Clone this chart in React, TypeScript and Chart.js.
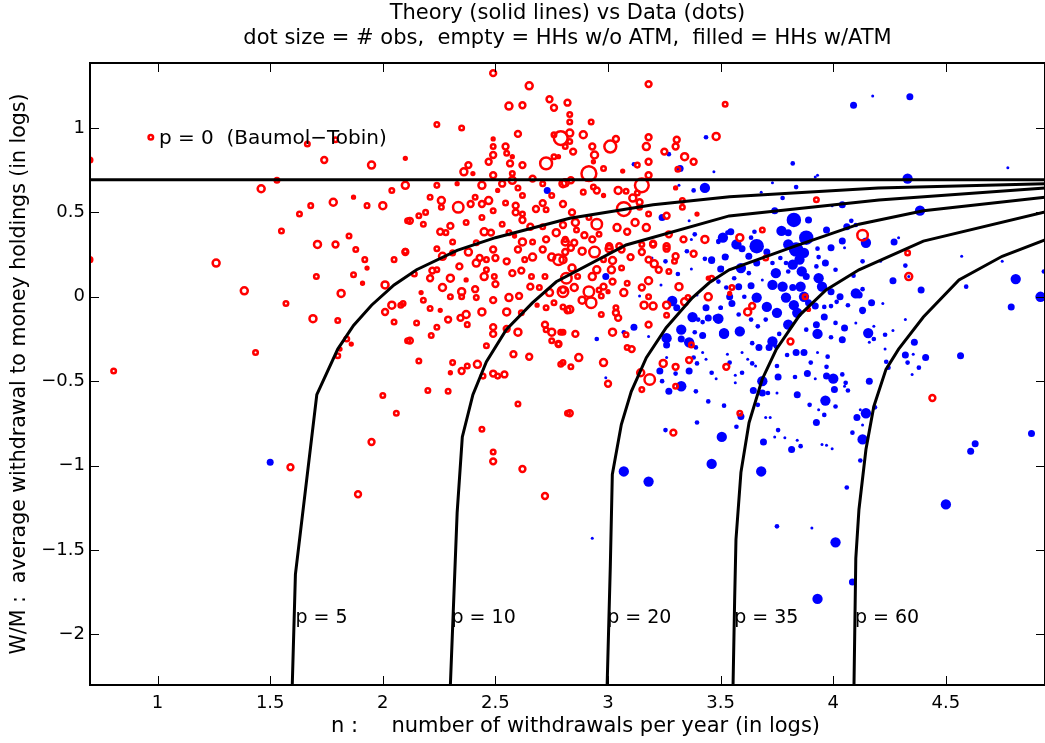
import React, { useEffect, useRef } from "react";
import { Chart, registerables } from "chart.js";

Chart.register(...registerables);

// ---------- axes ----------
const xMin = 0.7;
const xMax = 4.94;
const yMin = -2.3;
const yMax = 1.385;
const xTicks = [1, 1.5, 2, 2.5, 3, 3.5, 4, 4.5];
const yTicks = [-2, -1.5, -1, -0.5, 0, 0.5, 1];

// ---------- text ----------
const titleLines = [
  "Theory (solid lines) vs Data (dots)",
  "dot size = # obs,  empty = HHs w/o ATM,  filled = HHs w/ATM",
];
const xTitle = "n :     number of withdrawals per year (in logs)";
const yTitle = "W/M :  average withdrawal to money holdings (in logs)";
const baumolLabel = "p = 0  (Baumol\u2212Tobin)";
const baumolLabelPos = [1.006, 0.935];
const curveLabels = ["p = 5", "p = 10", "p = 20", "p = 35", "p = 60"];
const curveLabelX = [1.612, 2.305, 2.996, 3.56, 4.096];
const curveLabelY = -1.905;

// ---------- theory curves (x = log n, y = log W/M) ----------
const curveP0: number[][] = [[0.7, 0.693], [4.94, 0.693]];
const curveP5: number[][] = [
  [1.598, -2.3], [1.612, -1.645], [1.707, -0.58], [1.8, -0.31], [1.87, -0.17], [1.95, -0.05],
  [2.05, 0.07], [2.15, 0.16], [2.33, 0.275], [2.5, 0.35], [2.83, 0.465], [3.2, 0.545],
  [3.54, 0.592], [4.2, 0.645], [4.94, 0.67],
];
const curveP10: number[][] = [
  [2.3, -2.3], [2.33, -1.28], [2.353, -0.83], [2.4, -0.58], [2.46, -0.385], [2.548, -0.195],
  [2.664, -0.036], [2.77, 0.089], [3.08, 0.307], [3.538, 0.479], [4.203, 0.574], [4.94, 0.645],
];
const curveP20: number[][] = [
  [2.996, -2.3], [3.01, -1.6], [3.019, -1.053], [3.059, -0.757], [3.103, -0.562], [3.17, -0.361],
  [3.258, -0.183], [3.374, -0.006], [3.449, 0.083], [3.538, 0.16], [3.83, 0.3], [4.114, 0.43],
  [4.4, 0.51], [4.94, 0.59],
];
const curveP35: number[][] = [
  [3.555, -2.3], [3.562, -1.8], [3.568, -1.438], [3.59, -1.04], [3.626, -0.746], [3.684, -0.49],
  [3.746, -0.314], [3.85, -0.11], [3.968, 0.041], [4.114, 0.16], [4.4, 0.33], [4.94, 0.503],
];
const curveP60: number[][] = [
  [4.092, -2.3], [4.1, -1.55], [4.114, -1.26], [4.145, -0.905], [4.18, -0.65], [4.234, -0.43],
  [4.29, -0.31], [4.4, -0.12], [4.558, 0.1], [4.75, 0.24], [4.94, 0.337],
];
const theoryCurves = [curveP0, curveP5, curveP10, curveP20, curveP35, curveP60];

// ---------- data: [log n, log W/M, # obs] ----------
const withoutAtm: number[][] = [
  [0.7, 0.81, 2], [0.97, 0.945, 2], [1.665, 0.905, 2], [1.79, 0.93, 2], [1.74, 0.81, 3], [1.95, 0.78, 4],
  [2.1, 0.82, 1], [1.53, 0.69, 2], [1.46, 0.64, 4], [2.04, 0.63, 2], [2.1, 0.66, 4], [1.78, 0.56, 4],
  [1.87, 0.59, 1], [1.68, 0.54, 2], [1.93, 0.54, 2], [2.0, 0.54, 4], [1.63, 0.49, 2], [2.11, 0.45, 2],
  [1.55, 0.39, 2], [1.85, 0.36, 2], [1.71, 0.31, 4], [1.79, 0.31, 3], [1.88, 0.28, 2], [2.1, 0.27, 2],
  [2.05, 0.22, 2], [1.92, 0.22, 2], [1.93, 0.17, 1], [1.26, 0.2, 4], [0.7, 0.22, 2], [1.705, 0.12, 2],
  [1.87, 0.13, 2], [1.91, 0.08, 1], [2.01, 0.07, 4], [1.385, 0.035, 4], [1.815, 0.02, 4], [1.57, -0.04, 2],
  [2.04, -0.05, 4], [2.08, -0.05, 2],
  [1.69, -0.13, 4], [1.8, -0.14, 2], [2.01, -0.09, 3], [2.05, -0.15, 2], [1.84, -0.25, 2], [1.86, -0.28, 1],
  [1.81, -0.31, 1], [1.8, -0.35, 2], [2.11, -0.26, 2], [1.435, -0.33, 2], [0.805, -0.44, 2], [2.0, -0.585, 2],
  [2.06, -0.69, 2], [1.95, -0.86, 3], [1.59, -1.01, 3], [1.89, -1.17, 3],
  [2.49, 1.325, 3], [2.65, 1.25, 4], [2.56, 1.13, 4], [2.62, 1.135, 3], [2.74, 1.17, 3], [2.76, 1.12, 3],
  [2.82, 1.15, 3], [2.24, 1.02, 2], [2.35, 1.0, 2], [2.49, 0.935, 1], [2.49, 0.89, 2], [2.545, 0.89, 3],
  [2.55, 0.85, 2], [2.575, 0.83, 1], [2.49, 0.84, 3], [2.6, 0.965, 3], [2.47, 0.8, 3], [2.565, 0.79, 3],
  [2.62, 0.78, 3], [2.725, 0.79, 10], [2.76, 0.83, 2], [2.78, 0.83, 1], [2.79, 0.94, 13], [2.76, 0.96, 2],
  [2.81, 0.89, 2], [2.38, 0.78, 3], [2.36, 0.74, 4], [2.4, 0.73, 1], [2.49, 0.72, 3], [2.575, 0.73, 2],
  [2.665, 0.7, 3], [2.24, 0.66, 2], [2.33, 0.67, 1], [2.44, 0.66, 4], [2.53, 0.67, 3], [2.575, 0.69, 4],
  [2.6, 0.645, 2], [2.71, 0.67, 2], [2.75, 0.6, 2], [2.8, 0.67, 4], [2.51, 0.63, 1], [2.21, 0.59, 2],
  [2.26, 0.57, 4], [2.26, 0.53, 2], [2.335, 0.53, 8], [2.39, 0.55, 3], [2.41, 0.59, 2], [2.44, 0.55, 3],
  [2.47, 0.57, 4], [2.49, 0.51, 2], [2.545, 0.555, 2], [2.59, 0.54, 3], [2.62, 0.6, 2], [2.59, 0.5, 3],
  [2.62, 0.49, 2], [2.68, 0.52, 3], [2.71, 0.555, 3], [2.725, 0.515, 2], [2.8, 0.55, 3], [2.16, 0.48, 2],
  [2.19, 0.5, 2], [2.12, 0.45, 3], [2.18, 0.43, 2], [2.3, 0.42, 3], [2.255, 0.385, 3], [2.28, 0.38, 2],
  [2.31, 0.325, 2], [2.37, 0.44, 2], [2.44, 0.47, 2], [2.45, 0.385, 4], [2.48, 0.38, 3], [2.53, 0.43, 2],
  [2.56, 0.38, 2], [2.585, 0.36, 1], [2.62, 0.455, 3], [2.655, 0.415, 3], [2.71, 0.415, 2], [2.62, 0.325, 4],
  [2.665, 0.325, 2], [2.725, 0.34, 3], [2.77, 0.38, 4], [2.8, 0.425, 3], [2.415, 0.32, 2], [2.81, 0.34, 2],
  [2.1, 0.265, 3], [2.24, 0.285, 2], [2.265, 0.24, 4], [2.31, 0.26, 2], [2.22, 0.155, 3], [2.24, 0.16, 2],
  [2.14, 0.135, 2], [2.21, 0.11, 3], [2.3, 0.11, 4], [2.34, 0.18, 3], [2.38, 0.265, 4], [2.415, 0.2, 4],
  [2.43, 0.23, 3], [2.46, 0.22, 2], [2.5, 0.23, 3], [2.49, 0.28, 3], [2.55, 0.21, 3], [2.6, 0.28, 3],
  [2.63, 0.22, 2], [2.665, 0.235, 4], [2.71, 0.28, 3], [2.75, 0.235, 4], [2.78, 0.22, 8], [2.81, 0.265, 3],
  [2.45, 0.12, 4], [2.495, 0.12, 2], [2.46, 0.16, 2], [2.37, 0.1, 1], [2.41, 0.045, 3], [2.5, 0.075, 3],
  [2.265, 0.055, 4], [2.3, 0.0, 2], [2.35, 0.03, 4], [2.35, 0.0, 2], [2.415, -0.005, 2], [2.49, -0.02, 3],
  [2.575, 0.14, 3], [2.615, 0.155, 3], [2.56, -0.005, 4], [2.605, 0.005, 3], [2.66, 0.12, 2], [2.72, 0.12, 2],
  [2.655, 0.06, 3], [2.695, 0.055, 2], [2.74, 0.025, 4], [2.76, -0.035, 2], [2.725, -0.065, 2], [2.8, 0.04, 3],
  [2.82, -0.08, 3], [2.685, -0.05, 1], [2.09, -0.04, 2], [2.18, -0.02, 2], [2.17, 0.025, 1], [2.21, -0.07, 2],
  [2.255, -0.08, 1], [2.29, -0.135, 3], [2.345, -0.125, 3], [2.37, -0.105, 4], [2.375, -0.165, 2], [2.44, -0.09, 4],
  [2.55, -0.09, 4], [2.49, -0.18, 3], [2.49, -0.22, 3], [2.55, -0.19, 3], [2.6, -0.21, 4], [2.615, -0.095, 2],
  [2.72, -0.165, 3], [2.75, -0.21, 4], [2.725, -0.195, 2], [2.79, -0.21, 2], [2.75, -0.26, 2], [2.78, -0.28, 3],
  [2.15, -0.155, 2], [2.24, -0.18, 2], [2.215, -0.23, 2], [2.12, -0.26, 3], [2.46, -0.29, 2], [2.58, -0.34, 3],
  [2.65, -0.355, 3], [2.16, -0.38, 2], [2.31, -0.39, 2], [2.42, -0.4, 4], [2.375, -0.41, 2], [2.3, -0.45, 1],
  [2.35, -0.44, 3], [2.445, -0.47, 2], [2.49, -0.455, 3], [2.51, -0.47, 2], [2.54, -0.46, 3], [2.79, -0.4, 2],
  [2.2, -0.555, 2], [2.29, -0.56, 2], [2.6, -0.635, 2], [2.82, -0.69, 2], [2.44, -0.785, 2], [2.49, -0.92, 2],
  [2.49, -0.975, 3], [2.62, -1.02, 3], [2.72, -1.18, 3],
  [3.18, 1.26, 3], [3.52, 1.14, 2], [2.83, 1.08, 2], [2.83, 1.035, 2], [2.925, 1.035, 2], [2.83, 0.97, 4],
  [2.89, 0.96, 4], [2.83, 0.92, 2], [2.845, 0.86, 3], [2.93, 0.89, 3], [3.01, 0.89, 10], [3.035, 0.935, 3],
  [2.94, 0.84, 4], [2.935, 0.8, 1], [3.18, 0.945, 3], [3.17, 0.89, 4], [3.25, 0.86, 3], [3.305, 0.93, 3],
  [3.3, 0.89, 3], [3.34, 0.83, 4], [3.38, 0.8, 3], [3.48, 0.95, 4], [3.13, 0.78, 2], [3.18, 0.8, 3],
  [3.31, 0.755, 2], [2.98, 0.76, 2], [3.065, 0.745, 1], [3.18, 0.72, 3], [2.915, 0.73, 15], [2.81, 0.675, 4],
  [2.835, 0.69, 3], [2.935, 0.65, 2], [2.95, 0.63, 3], [2.89, 0.62, 2], [2.98, 0.6, 1], [3.045, 0.63, 4],
  [3.08, 0.625, 2], [3.15, 0.66, 13], [3.13, 0.615, 2], [3.11, 0.585, 4], [3.14, 0.56, 3], [3.3, 0.645, 1],
  [3.33, 0.57, 2], [3.33, 0.53, 2], [3.395, 0.49, 1], [3.26, 0.48, 3], [3.07, 0.52, 13], [3.14, 0.53, 2],
  [3.18, 0.49, 2], [3.12, 0.44, 4], [3.17, 0.41, 4], [3.085, 0.385, 3], [3.04, 0.41, 4], [2.95, 0.43, 8],
  [2.96, 0.37, 2], [2.915, 0.47, 2], [2.84, 0.5, 3], [2.855, 0.44, 4], [2.86, 0.395, 2], [2.81, 0.325, 4],
  [2.85, 0.32, 3], [2.895, 0.365, 3], [2.93, 0.34, 3], [3.005, 0.3, 3], [3.05, 0.3, 3], [3.15, 0.31, 2],
  [3.2, 0.315, 3], [3.27, 0.37, 3], [3.335, 0.34, 3], [3.26, 0.3, 3], [3.43, 0.34, 4],
  [2.835, 0.29, 3], [2.885, 0.27, 4], [2.94, 0.265, 8], [3.005, 0.285, 4], [3.06, 0.28, 3], [3.1, 0.235, 3],
  [3.15, 0.265, 3], [3.2, 0.31, 3], [3.26, 0.285, 3], [3.3, 0.24, 3], [3.295, 0.21, 2], [3.38, 0.255, 3],
  [3.18, 0.22, 3], [3.205, 0.195, 4], [3.225, 0.16, 3], [3.27, 0.15, 2], [3.02, 0.215, 4], [3.015, 0.16, 4],
  [3.06, 0.17, 2], [2.98, 0.22, 2], [2.95, 0.16, 4], [2.84, 0.17, 4], [2.8, 0.22, 4], [2.815, 0.11, 8],
  [2.865, 0.12, 2], [2.93, 0.12, 4], [2.8, 0.03, 8], [2.85, 0.055, 4], [2.915, 0.03, 8], [2.96, 0.04, 2],
  [2.98, 0.06, 3], [3.02, 0.09, 3], [3.0, 0.03, 1], [3.07, 0.025, 4], [3.085, 0.08, 2], [3.15, 0.055, 3],
  [3.18, 0.095, 4], [3.18, 0.0, 2], [3.16, -0.05, 4], [3.2, -0.055, 4], [3.26, -0.05, 4], [3.26, -0.11, 2],
  [3.315, 0.06, 4], [3.34, -0.03, 4], [3.355, -0.005, 2], [3.445, 0.0, 4], [3.445, 0.11, 1], [2.885, -0.02, 4],
  [2.925, -0.035, 8], [2.97, 0.005, 2], [2.83, -0.075, 4], [2.8, -0.06, 2], [2.97, -0.105, 2], [3.035, -0.065, 2],
  [3.035, -0.095, 3], [3.045, -0.125, 3], [3.18, -0.165, 3], [3.02, -0.21, 4], [3.08, -0.225, 2], [2.855, -0.22, 3],
  [2.8, -0.21, 2], [2.78, -0.28, 2], [3.085, -0.3, 2], [3.105, -0.31, 3], [2.87, -0.36, 4], [2.98, -0.39, 4],
  [2.8, -0.39, 2], [2.835, -0.415, 2], [3.145, -0.45, 4], [3.185, -0.49, 8], [3.15, -0.55, 2], [3.0, -0.515, 3],
  [2.83, -0.69, 3], [3.245, -0.395, 4], [3.3, -0.415, 3], [3.3, -0.53, 2], [3.36, -0.375, 3], [3.37, -0.285, 2],
  [3.29, -0.805, 3], [3.525, -0.415, 3],
  [3.925, 0.575, 2], [3.685, 0.395, 2], [3.585, 0.35, 4], [4.13, 0.365, 8], [3.7, 0.23, 2], [3.55, 0.055, 2],
  [3.54, 0.02, 1], [3.64, -0.055, 3], [3.62, -0.09, 4], [3.875, 0.0, 2], [3.89, -0.075, 1], [3.81, -0.265, 3],
  [3.46, 0.11, 2], [3.585, -0.69, 2], [4.33, 0.26, 2], [4.335, 0.12, 4], [4.44, -0.6, 3],
];

const withAtm: number[][] = [
  [1.5, -0.98, 4], [2.73, 0.63, 4], [2.93, -1.43, 1],
  [3.435, 0.945, 2], [3.47, 0.74, 1], [3.27, 0.845, 2], [3.115, 0.785, 2], [3.32, 0.76, 4], [3.315, 0.66, 1],
  [3.38, 0.63, 2], [3.43, 0.645, 8], [3.36, 0.45, 1], [3.24, 0.47, 4], [3.385, 0.37, 2], [3.37, 0.34, 1],
  [3.49, 0.325, 2], [3.51, 0.35, 8], [3.53, 0.38, 2],
  [3.35, 0.27, 2], [3.43, 0.225, 2], [3.46, 0.215, 4], [3.52, 0.235, 4], [3.255, 0.21, 2], [3.195, 0.23, 1],
  [3.37, 0.165, 1], [3.5, 0.165, 4], [3.31, 0.135, 2], [2.99, 0.12, 4], [3.235, 0.07, 1], [3.395, 0.01, 1],
  [3.14, 0.005, 1], [3.285, -0.025, 8], [3.305, -0.065, 4], [3.435, -0.065, 4], [3.5, -0.065, 2], [3.375, -0.12, 8],
  [3.445, -0.125, 4], [3.49, -0.13, 8], [3.4, -0.135, 2], [3.42, -0.15, 2], [3.115, -0.18, 4], [3.325, -0.195, 8],
  [3.385, -0.21, 2], [3.42, -0.23, 4], [3.515, -0.22, 8], [3.26, -0.245, 8], [3.26, -0.285, 4], [3.325, -0.25, 4],
  [3.36, -0.27, 8], [3.39, -0.3, 2], [3.07, -0.21, 2], [3.18, -0.235, 1], [2.95, -0.25, 2], [3.38, -0.36, 2],
  [3.42, -0.33, 1], [3.435, -0.37, 1], [3.395, -0.395, 2], [3.26, -0.36, 1], [3.23, -0.44, 4], [3.3, -0.455, 2],
  [3.36, -0.44, 4], [3.46, -0.45, 2], [3.48, -0.485, 1], [3.24, -0.5, 2], [3.325, -0.53, 8], [3.27, -0.56, 4],
  [3.39, -0.56, 2], [2.99, -0.48, 1], [3.445, -0.62, 2], [3.515, -0.645, 2], [3.395, -0.745, 2], [3.255, -0.79, 2],
  [3.505, -0.83, 8], [3.46, -0.99, 8], [3.07, -1.035, 8], [3.18, -1.095, 8],
  [3.82, 0.79, 2], [3.93, 0.72, 1], [3.92, 0.71, 1], [3.73, 0.675, 1], [3.835, 0.65, 2], [3.68, 0.62, 1],
  [3.775, 0.585, 2], [4.04, 0.545, 4], [3.995, 0.54, 1], [3.74, 0.51, 4], [3.825, 0.455, 15], [3.89, 0.455, 4],
  [3.545, 0.385, 4], [3.65, 0.385, 2], [3.77, 0.39, 8], [3.8, 0.38, 4], [3.97, 0.395, 4], [4.06, 0.415, 4],
  [4.1, 0.425, 2], [4.08, 0.45, 2], [3.88, 0.35, 15], [3.51, 0.355, 4], [3.49, 0.33, 2], [3.57, 0.31, 8],
  [3.595, 0.285, 4], [3.635, 0.35, 2], [3.66, 0.3, 15], [3.705, 0.265, 4], [3.8, 0.31, 8], [3.835, 0.28, 15],
  [3.87, 0.26, 8], [4.04, 0.33, 4], [3.99, 0.29, 4], [3.93, 0.285, 2], [4.05, 0.29, 1], [3.935, 0.235, 2],
  [3.965, 0.2, 4], [3.925, 0.18, 2], [3.85, 0.22, 8], [3.82, 0.19, 8], [3.765, 0.23, 2], [3.79, 0.2, 2],
  [3.73, 0.2, 2], [3.66, 0.2, 4], [3.625, 0.24, 4], [3.525, 0.24, 2], [3.46, 0.22, 4], [3.505, 0.17, 2],
  [3.59, 0.17, 8], [3.625, 0.14, 2], [3.56, 0.11, 2], [3.685, 0.1, 1], [3.745, 0.14, 8], [3.8, 0.15, 2],
  [3.86, 0.15, 8], [3.88, 0.12, 4], [3.935, 0.11, 8], [4.01, 0.16, 2], [4.09, 0.125, 2], [3.49, 0.09, 2],
  [3.525, 0.055, 2], [3.58, 0.06, 4], [3.635, 0.065, 4], [3.73, 0.07, 8], [3.775, 0.06, 8], [3.82, 0.055, 4],
  [3.855, 0.06, 8], [3.95, 0.06, 8], [3.99, 0.03, 4], [4.03, 0.0, 4], [4.1, 0.02, 8], [3.54, 0.0, 4],
  [3.605, 0.0, 2], [3.66, -0.005, 8], [3.79, -0.005, 8], [3.87, 0.0, 8], [3.89, -0.035, 4], [3.92, -0.055, 4],
  [3.96, -0.06, 2], [3.99, -0.055, 2], [4.015, -0.03, 2], [4.065, -0.05, 2], [4.17, -0.035, 4], [3.705, -0.06, 8],
  [3.75, -0.095, 8], [3.825, -0.05, 8], [3.84, -0.095, 8], [3.58, -0.105, 2], [3.55, -0.04, 4], [3.5, -0.065, 2],
  [3.48, -0.125, 4], [3.635, -0.135, 2], [3.7, -0.135, 2], [3.8, -0.165, 8], [3.925, -0.165, 4], [3.96, -0.12, 4],
  [4.01, -0.155, 2], [4.05, -0.185, 4], [4.1, -0.155, 1], [4.13, -0.09, 2], [4.155, -0.215, 8], [3.515, -0.215, 8],
  [3.585, -0.205, 8], [3.665, -0.175, 2], [3.76, -0.22, 2], [3.88, -0.195, 2], [3.93, -0.22, 8], [3.99, -0.24, 2],
  [4.04, -0.25, 2], [3.64, -0.275, 2], [3.73, -0.265, 8], [4.16, -0.27, 1], [4.18, -0.25, 2],
  [3.67, -0.3, 4], [3.715, -0.3, 4], [3.745, -0.295, 2], [3.795, -0.345, 2], [3.835, -0.33, 4], [3.87, -0.33, 4],
  [3.53, -0.34, 1], [3.54, -0.39, 2], [3.595, -0.33, 1], [3.62, -0.37, 1], [3.64, -0.395, 2], [3.655, -0.41, 1],
  [3.46, -0.45, 1], [3.565, -0.465, 1], [3.595, -0.45, 2], [3.565, -0.51, 1], [3.685, -0.5, 8], [3.645, -0.555, 4],
  [3.685, -0.57, 4], [3.71, -0.57, 2], [3.755, -0.475, 4], [3.75, -0.57, 1], [3.75, -0.41, 2], [3.83, -0.475, 2],
  [3.885, -0.455, 4], [3.84, -0.58, 4], [3.9, -0.39, 2], [3.93, -0.33, 1], [3.975, -0.355, 2], [3.97, -0.415, 2],
  [3.92, -0.485, 1], [3.97, -0.47, 4], [4.0, -0.485, 8], [4.04, -0.46, 2], [4.055, -0.51, 2], [4.005, -0.55, 4],
  [4.05, -0.53, 1], [4.065, -0.555, 2], [4.16, -0.5, 4], [4.04, -0.255, 4], [3.665, -0.64, 2], [3.895, -0.64, 2],
  [3.965, -0.615, 8], [4.01, -0.65, 2], [3.935, -0.67, 1], [3.96, -0.7, 2], [3.925, -0.745, 4], [3.7, -0.715, 1],
  [3.72, -0.715, 1], [3.59, -0.71, 4], [3.57, -0.77, 2], [3.755, -0.79, 2], [3.74, -0.83, 1], [3.785, -0.835, 1],
  [3.69, -0.86, 4], [3.815, -0.905, 4], [3.84, -0.85, 1], [3.855, -0.885, 2], [3.95, -0.875, 1], [3.97, -0.88, 1],
  [3.995, -0.9, 1], [3.68, -1.035, 8], [4.06, -1.13, 2], [3.75, -1.36, 2], [3.905, -1.37, 1], [4.01, -1.455, 8],
  [4.085, -1.69, 4], [3.93, -1.79, 8], [4.105, -0.715, 4], [4.13, -0.845, 8], [4.12, -0.97, 2], [4.085, -0.805, 2],
  [4.145, -0.69, 8], [4.185, -0.655, 2], [4.12, -0.67, 1],
  [4.175, 1.19, 1], [4.34, 1.185, 4], [4.775, 0.765, 1], [4.33, 0.7, 8], [4.385, 0.51, 8], [4.145, 0.32, 8],
  [4.27, 0.325, 4], [4.29, 0.35, 1], [4.13, 0.21, 2], [4.21, 0.21, 1], [4.32, 0.185, 2], [4.57, 0.24, 1],
  [4.75, 0.21, 1], [4.81, 0.105, 8], [4.935, 0.15, 2], [4.92, 0.0, 8], [4.59, 0.06, 2], [4.79, -0.06, 4],
  [4.265, 0.095, 4], [4.39, 0.04, 4], [4.13, 0.045, 2], [4.115, 0.01, 4], [4.22, -0.04, 1], [4.13, -0.08, 4],
  [4.32, -0.135, 1], [4.18, -0.175, 1], [4.265, -0.2, 1], [4.23, -0.225, 2], [4.36, -0.27, 4], [4.23, -0.31, 1],
  [4.32, -0.345, 4], [4.355, -0.34, 1], [4.41, -0.36, 4], [4.565, -0.35, 4], [4.09, 1.135, 4], [4.335, 0.12, 1],
  [4.235, -0.385, 2], [4.245, -0.42, 2], [4.33, -0.39, 2], [4.38, -0.42, 2], [4.35, -0.46, 1], [4.13, -0.76, 1],
  [4.88, -0.81, 4], [4.63, -0.87, 4], [4.61, -0.915, 4], [4.5, -1.23, 8],
];

const FONT = '"DejaVu Sans", sans-serif';

function fmtTick(v: number): string {
  return (v < 0 ? "\u2212" : "") + String(Math.abs(v));
}

const frameAndText = {
  id: "frameAndText",
  afterDraw(chart: any) {
    const { ctx, chartArea: a, scales } = chart;
    const xs = scales.x;
    const ys = scales.y;
    ctx.save();
    ctx.strokeStyle = "#000";
    ctx.lineWidth = 1;
    ctx.beginPath();
    for (const v of xTicks) {
      const px = Math.round(xs.getPixelForValue(v)) + 0.5;
      ctx.moveTo(px, a.bottom);
      ctx.lineTo(px, a.bottom - 9);
      ctx.moveTo(px, a.top);
      ctx.lineTo(px, a.top + 9);
    }
    for (const v of yTicks) {
      const py = Math.round(ys.getPixelForValue(v)) + 0.5;
      ctx.moveTo(a.left, py);
      ctx.lineTo(a.left + 9, py);
      ctx.moveTo(a.right, py);
      ctx.lineTo(a.right - 9, py);
    }
    ctx.stroke();
    ctx.lineWidth = 2;
    ctx.strokeRect(a.left, a.top, a.right - a.left, a.bottom - a.top);

    ctx.fillStyle = "#000";
    ctx.textBaseline = "middle";
    ctx.textAlign = "left";
    ctx.font = "20px " + FONT;
    ctx.fillText(baumolLabel, xs.getPixelForValue(baumolLabelPos[0]), ys.getPixelForValue(baumolLabelPos[1]));
    ctx.font = "19px " + FONT;
    curveLabels.forEach((t, i) => {
      ctx.fillText(t, xs.getPixelForValue(curveLabelX[i]), ys.getPixelForValue(curveLabelY));
    });

    ctx.textAlign = "center";
    ctx.font = "21px " + FONT;
    const cx = (a.left + a.right) / 2;
    ctx.fillText(titleLines[0], cx, 14);
    ctx.fillText(titleLines[1], cx, 39);
    ctx.fillText(xTitle, cx + 8, 727);
    ctx.restore();
  },
};

export default function App() {
  const ref = useRef<HTMLCanvasElement | null>(null);

  useEffect(() => {
    if (!ref.current) return;
    const lineSets = theoryCurves.map((c) => ({
      type: "scatter" as const,
      data: c.map(([x, y]) => ({ x, y })),
      showLine: true,
      borderColor: "#000",
      borderWidth: 3,
      pointRadius: 0,
      fill: false,
      order: 0,
    }));
    const chart = new Chart(ref.current, {
      type: "scatter",
      data: {
        datasets: [
          ...lineSets,
          {
            data: withoutAtm.map(([x, y]) => ({ x, y })),
            pointRadius: withoutAtm.map((p) => Math.max(1.2, 2.1 * Math.sqrt(p[2]) - 0.7)),
            borderColor: "#ff0000",
            backgroundColor: "rgba(0,0,0,0)",
            borderWidth: 2.5,
            order: 1,
          },
          {
            data: withAtm.map(([x, y]) => ({ x, y })),
            pointRadius: withAtm.map((p) => 2.0 * Math.sqrt(p[2]) - 0.5),
            backgroundColor: "#0000ff",
            borderColor: "#0000ff",
            borderWidth: 0,
            order: 2,
          },
        ] as any,
      },
      options: {
        animation: false,
        responsive: false,
        devicePixelRatio: 1,
        events: [],
        layout: { autoPadding: false, padding: { top: 63, right: 0, bottom: 0, left: 0 } },
        plugins: { legend: { display: false }, tooltip: { enabled: false }, title: { display: false } },
        scales: {
          x: {
            type: "linear",
            min: xMin,
            max: xMax,
            afterBuildTicks: (s: any) => {
              s.ticks = xTicks.map((v) => ({ value: v }));
            },
            afterFit: (s: any) => {
              s.height = 58;
              s.paddingLeft = 0;
              s.paddingRight = 0;
            },
            grid: { display: false, drawTicks: false },
            border: { display: false },
            ticks: {
              autoSkip: false,
              maxRotation: 0,
              padding: 8,
              color: "#000",
              font: { family: FONT, size: 18 },
              callback: (v: any) => fmtTick(Number(v)),
            },
            title: { display: false },
          },
          y: {
            type: "linear",
            min: yMin,
            max: yMax,
            afterBuildTicks: (s: any) => {
              s.ticks = yTicks.map((v) => ({ value: v }));
            },
            afterFit: (s: any) => {
              s.width = 90;
              s.paddingTop = 0;
              s.paddingBottom = 0;
            },
            grid: { display: false, drawTicks: false },
            border: { display: false },
            ticks: {
              autoSkip: false,
              padding: 5,
              color: "#000",
              font: { family: FONT, size: 18 },
              callback: (v: any) => fmtTick(Number(v)),
            },
            title: {
              display: true,
              text: yTitle,
              color: "#000",
              font: { family: FONT, size: 20.5 },
              padding: { top: 7, bottom: 0 },
            },
          },
        },
      } as any,
      plugins: [frameAndText],
    });
    return () => chart.destroy();
  }, []);

  return (
    <div style={{ position: "absolute", left: 0, top: 0, width: 1045, height: 743, background: "#fff" }}>
      <canvas ref={ref} width={1045} height={743} style={{ display: "block" }} />
    </div>
  );
}
